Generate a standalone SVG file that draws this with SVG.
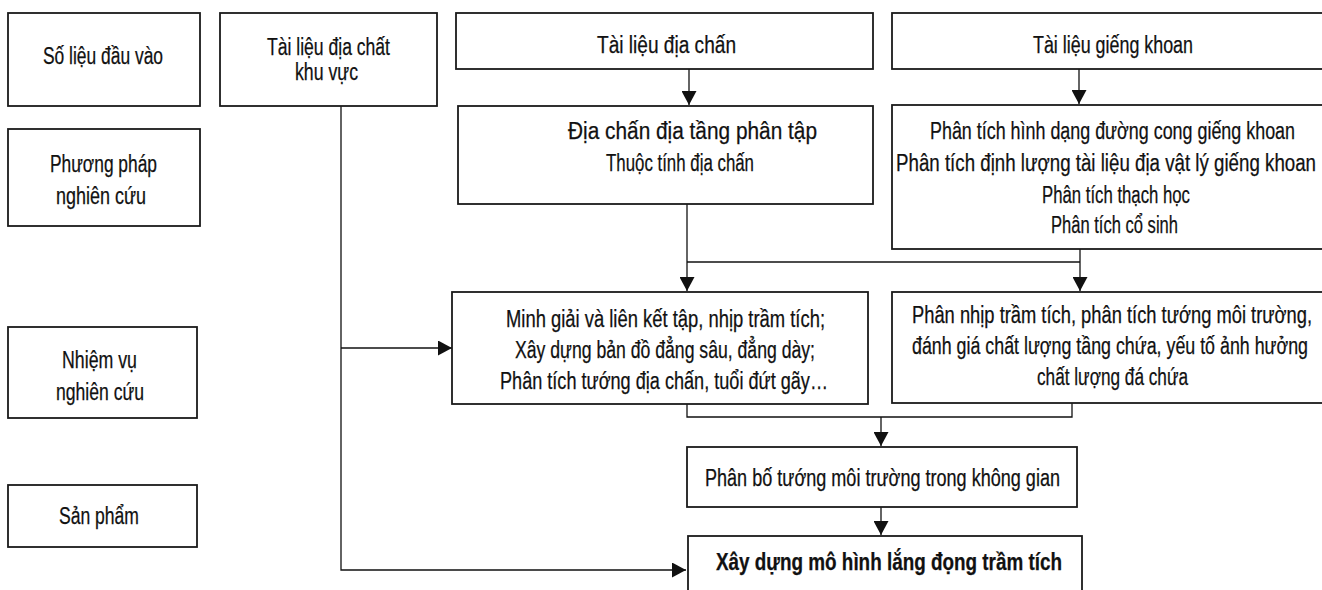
<svg xmlns="http://www.w3.org/2000/svg" width="1322" height="590" viewBox="0 0 1322 590">
<style>
.box{fill:#fff;stroke:#1a1a1a;stroke-width:1.8}
.t{font-family:"Liberation Sans",Arial,sans-serif;font-size:23px;fill:#111;stroke:#111;stroke-width:0.25;text-anchor:middle}
.b{font-weight:bold}
.c{fill:none;stroke:#111;stroke-width:1.3}
</style>
<defs>
<marker id="ah" markerUnits="userSpaceOnUse" markerWidth="15" markerHeight="15" refX="14" refY="7.5" orient="auto">
<path d="M0,0 L14,7.5 L0,15 z" fill="#111"/>
</marker>
</defs>
<rect width="1322" height="590" fill="#fff"/>
<g id="connectors">
<path class="c" d="M341,106 V570 H686" marker-end="url(#ah)"/>
<path class="c" d="M341,348 H452" marker-end="url(#ah)"/>
<path class="c" d="M689,69 V105" marker-end="url(#ah)"/>
<path class="c" d="M1079,69 V104" marker-end="url(#ah)"/>
<path class="c" d="M687,204 V291" marker-end="url(#ah)"/>
<path class="c" d="M1080,249 V291" marker-end="url(#ah)"/>
<path class="c" d="M687,262 H1080"/>
<path class="c" d="M687,404 V417 H1072 V403"/>
<path class="c" d="M881,417 V446" marker-end="url(#ah)"/>
<path class="c" d="M881,507 V535" marker-end="url(#ah)"/>
</g>
<g id="n-solieu">
<rect class="box" x="8" y="13" width="192" height="93"/>
<text class="t" x="103" y="64" textLength="120" lengthAdjust="spacingAndGlyphs">Số liệu đầu vào</text>
</g>
<g id="n-phuongphap">
<rect class="box" x="8" y="129" width="192" height="97"/>
<text class="t" x="103.5" y="172" textLength="107" lengthAdjust="spacingAndGlyphs">Phương pháp</text>
<text class="t" x="101" y="204" textLength="90" lengthAdjust="spacingAndGlyphs">nghiên cứu</text>
</g>
<g id="n-nhiemvu">
<rect class="box" x="8" y="327" width="189" height="91"/>
<text class="t" x="99.5" y="368" textLength="75" lengthAdjust="spacingAndGlyphs">Nhiệm vụ</text>
<text class="t" x="100" y="400" textLength="88" lengthAdjust="spacingAndGlyphs">nghiên cứu</text>
</g>
<g id="n-sanpham">
<rect class="box" x="8" y="485" width="189" height="62"/>
<text class="t" x="99" y="524" textLength="80" lengthAdjust="spacingAndGlyphs">Sản phẩm</text>
</g>
<g id="n-diachat">
<rect class="box" x="220" y="13" width="217" height="93"/>
<text class="t" x="328.5" y="55" textLength="123" lengthAdjust="spacingAndGlyphs">Tài liệu địa chất</text>
<text class="t" x="326.5" y="80" textLength="63" lengthAdjust="spacingAndGlyphs">khu vực</text>
</g>
<g id="n-diachan">
<rect class="box" x="456" y="13" width="417" height="56"/>
<text class="t" x="666.5" y="53" textLength="139" lengthAdjust="spacingAndGlyphs">Tài liệu địa chấn</text>
</g>
<g id="n-gieng">
<rect class="box" x="892" y="13" width="431" height="56"/>
<text class="t" x="1113" y="53" textLength="160" lengthAdjust="spacingAndGlyphs">Tài liệu giếng khoan</text>
</g>
<g id="n-diachan-pp">
<rect class="box" x="458" y="106" width="415" height="98"/>
<text class="t" x="692.5" y="139" textLength="249" lengthAdjust="spacingAndGlyphs">Địa chấn địa tầng phân tập</text>
<text class="t" x="680" y="171" textLength="148" lengthAdjust="spacingAndGlyphs">Thuộc tính địa chấn</text>
</g>
<g id="n-gieng-pp">
<rect class="box" x="892" y="105" width="431" height="144"/>
<text class="t" x="1112.5" y="139" textLength="365" lengthAdjust="spacingAndGlyphs">Phân tích hình dạng đường cong giếng khoan</text>
<text class="t" x="1106" y="171" textLength="420" lengthAdjust="spacingAndGlyphs">Phân tích định lượng tài liệu địa vật lý giếng khoan</text>
<text class="t" x="1116" y="203" textLength="148" lengthAdjust="spacingAndGlyphs">Phân tích thạch học</text>
<text class="t" x="1114.5" y="233" textLength="127" lengthAdjust="spacingAndGlyphs">Phân tích cổ sinh</text>
</g>
<g id="n-minhgiai">
<rect class="box" x="452" y="292" width="416" height="112"/>
<text class="t" x="665.5" y="327" textLength="319" lengthAdjust="spacingAndGlyphs">Minh giải và liên kết tập, nhịp trầm tích;</text>
<text class="t" x="665" y="358" textLength="300" lengthAdjust="spacingAndGlyphs">Xây dựng bản đồ đẳng sâu, đẳng dày;</text>
<text class="t" x="664" y="389" textLength="328" lengthAdjust="spacingAndGlyphs">Phân tích tướng địa chấn, tuổi đứt gãy…</text>
</g>
<g id="n-phannhip">
<rect class="box" x="892" y="292" width="431" height="111"/>
<text class="t" x="1112" y="323" textLength="400" lengthAdjust="spacingAndGlyphs">Phân nhịp trầm tích, phân tích tướng môi trường,</text>
<text class="t" x="1110" y="354" textLength="396" lengthAdjust="spacingAndGlyphs">đánh giá chất lượng tầng chứa, yếu tố ảnh hưởng</text>
<text class="t" x="1112.5" y="385" textLength="151" lengthAdjust="spacingAndGlyphs">chất lượng đá chứa</text>
</g>
<g id="n-phanbo">
<rect class="box" x="687" y="447" width="390" height="60"/>
<text class="t" x="882.5" y="486" textLength="355" lengthAdjust="spacingAndGlyphs">Phân bố tướng môi trường trong không gian</text>
</g>
<g id="n-mohinh">
<rect class="box" x="688" y="536" width="394" height="64"/>
<text class="t b" x="889" y="570" textLength="346" lengthAdjust="spacingAndGlyphs">Xây dựng mô hình lắng đọng trầm tích</text>
</g>
</svg>
